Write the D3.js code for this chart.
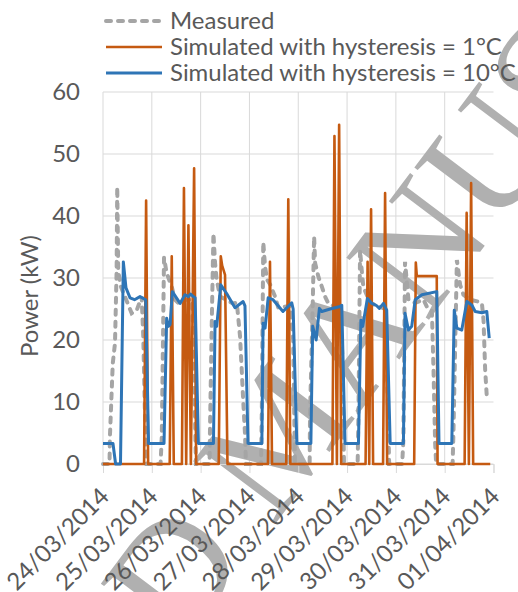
<!DOCTYPE html>
<html>
<head>
<meta charset="utf-8">
<script src="https://cdn.jsdelivr.net/npm/d3@7"></script>
<style>
  body { margin: 0; background: #fff; }
  text { font-family: Lato, "Open Sans", sans-serif; fill: #595959; }
</style>
</head>
<body>
<svg width="518" height="592"></svg>
<script>
// tick labels on the date axis (one per day, hours since 24/03 00:00)
var dateLabels = ['24/03/2014', '25/03/2014', '26/03/2014', '27/03/2014', '28/03/2014',
  '29/03/2014', '30/03/2014', '31/03/2014', '01/04/2014']
var dayHours = [0, 24, 48, 72, 96, 120, 144, 168, 192]
var yTicks = [0, 10, 20, 30, 40, 50, 60]
var seriesNames = ['Measured', 'Simulated with hysteresis = 1°C', 'Simulated with hysteresis = 10°C']

// [hour, kW]
var measured = [[0, 0], [3.2, 0], [3.4, 4.4], [4.8, 16.2], [5.9, 19.5], [6.7, 31.3], [7.0, 44.7], [7.5, 31],
  [8.9, 28.5], [10.8, 27], [14.1, 24.3], [16.6, 24.8], [19.0, 27], [19.8, 20.5], [20.7, 7], [21.4, 0],
  [28.3, 0], [28.9, 4.4], [30.0, 33.3], [31.3, 30.8], [33.8, 28.6], [35.4, 26.5], [36.9, 26], [40.3, 26.5],
  [43.8, 26.5], [44.8, 15], [45.7, 0],
  [52.4, 0], [52.6, 5.5], [53.6, 25], [54.3, 37.2], [55.1, 32.4], [55.9, 29.7], [57.6, 27], [63.9, 25.9],
  [65.8, 26], [67.4, 20.5], [68.2, 15.2], [69.0, 9.8], [69.8, 5], [70.3, 0],
  [77.7, 0], [78.1, 9], [78.8, 35.8], [79.7, 31.8], [80.7, 29.7], [82.1, 29], [84.6, 27], [86.2, 25.2],
  [92.0, 25.5], [93.5, 20], [94.4, 0],
  [101.6, 0], [101.8, 8.2], [103.1, 25.4], [103.8, 36.7], [104.3, 32.4], [105.9, 30.2], [107.6, 28.6],
  [109.2, 27], [110.8, 25.9], [116.6, 25], [117.6, 18], [118.5, 0],
  [125.2, 0], [125.6, 8], [126.4, 34.5], [127.2, 31.3], [128.0, 28.6], [131.3, 26], [138.7, 25],
  [139.7, 15], [140.7, 0],
  [147.1, 0], [147.7, 4], [148.5, 32.6], [150.2, 26.5], [153.5, 26], [157.6, 26.5], [159.2, 25.4],
  [161.7, 24.8], [162.5, 15.2], [163.3, 3.4], [163.8, 0],
  [171.9, 0], [172.3, 5], [174.0, 32.9], [175.6, 28.9], [177.2, 27.3], [180.5, 26.5], [184.4, 26.2],
  [186.3, 25.9], [187.1, 23.2], [187.9, 15.2], [188.7, 10.9]]

var simHyst1 = [[0, 0],
  [20.2, 0], [21.2, 42.5], [22.2, 0],
  [32.8, 0], [33.8, 33.5], [34.8, 0],
  [38.8, 0], [39.8, 44.5], [40.9, 0], [42.0, 38.5], [43.2, 0], [44.8, 47.7], [45.8, 0],
  [56.9, 0], [57.9, 33.5], [58.6, 32], [60.0, 30.5], [61.2, 0],
  [81.1, 0], [82.1, 32.6], [83.1, 0],
  [90.1, 0], [91.1, 42.7], [92.1, 0],
  [112.8, 0], [113.8, 52.9], [115.0, 0], [116.1, 54.7], [117.1, 0],
  [129.1, 0], [130.1, 32.6], [130.9, 0], [131.8, 41.1], [132.8, 0],
  [137.7, 0], [138.7, 43.7], [139.7, 0],
  [153.0, 0], [153.8, 32.5], [154.3, 30.3], [164.1, 30.3], [164.5, 0],
  [177.8, 0], [178.8, 40.5], [179.9, 0], [181.0, 45.3], [182.0, 0],
  [190.4, 0]]

var simHyst10 = [[0, 3.3], [4.9, 3.3], [6.2, 0], [8.6, 0], [10.0, 32.6], [11.3, 28.4], [13.3, 26.8],
  [15.5, 26.5], [18.2, 27], [21.0, 26.5], [22.4, 3.3],
  [30.0, 3.3], [31.3, 23.5], [32.1, 22.2], [33.0, 22.5], [34.1, 27.8], [37.9, 25.9], [40.3, 27.3],
  [42.0, 27], [43.1, 27.4], [44.4, 27], [45.3, 26.8], [46.9, 3.3],
  [54.3, 3.3], [55.1, 23], [55.9, 22.2], [57.9, 28.9], [60.8, 27.5], [64.9, 25.2], [68.9, 26.2],
  [69.8, 25.5], [71.3, 3.3],
  [78.1, 3.3], [78.7, 22.7], [79.7, 21.9], [81.2, 26.8], [83.6, 26.5], [88.5, 24.6], [92.8, 26],
  [93.5, 25], [95.3, 3.3],
  [102.2, 3.3], [103.1, 22.2], [104.8, 20], [106.4, 25.1], [107.6, 24.6], [111.7, 25], [116.6, 25.4],
  [117.4, 25.6], [119.0, 3.3],
  [125.6, 3.3], [126.8, 23.2], [127.7, 22.2], [130.0, 26.7], [132.2, 25.9], [134.3, 25.6], [135.9, 25.1],
  [137.9, 25.9], [139.5, 24.8], [141.2, 3.3],
  [147.7, 3.3], [148.5, 24.3], [150.2, 21.6], [151.8, 22.2], [153.5, 26.5], [156.8, 27.3], [164.1, 27.8],
  [165.2, 3.3],
  [171.5, 3.3], [172.7, 24.8], [174.0, 21.9], [176.4, 21.6], [178.9, 26.2], [181.4, 25.6], [183.0, 24.6],
  [186.3, 24.4], [188.7, 24.6], [189.9, 20.3]]

var colors = ['#a5a5a5', '#c55a11', '#2e75b6']
var widths = [4, 2.6, 3]

var svg = d3.select('svg')

// pick a font size so the longest legend entry is as wide as in the chart
var probe = svg.append('text').style('font-size', '20px').text(seriesNames[2])
var fs = 20 * 346 / probe.node().getComputedTextLength()
probe.remove()

var x = d3.scaleLinear().domain([0, 192]).range([103, 493.5])
var y = d3.scaleLinear().domain([0, 60]).range([464, 92])

// gridlines
svg.append('g').selectAll('line')
  .data(yTicks)
  .enter()
  .append('line')
  .attr('x1', x(0)).attr('x2', x(192))
  .attr('y1', (d) => y(d)).attr('y2', (d) => y(d))
  .style('stroke', '#d9d9d9')

svg.append('g').selectAll('line')
  .data(dayHours.slice(0, -1))
  .enter()
  .append('line')
  .attr('x1', (d) => x(d)).attr('x2', (d) => x(d))
  .attr('y1', y(0)).attr('y2', y(60))
  .style('stroke', '#d9d9d9')

// watermark
svg.append('text')
  .attr('transform', 'translate(322,462) rotate(-53)')
  .attr('text-anchor', 'middle')
  .style('font-family', '"Liberation Serif", serif')
  .style('font-size', '158px')
  .style('fill', '#b0b0b0')
  .text('ACCEPTED MANUSCRIPT')

// y axis
var yAxis = svg.append('g')
  .attr('transform', 'translate(103,0)')
  .call(d3.axisLeft(y).tickValues(yTicks).tickSize(0).tickPadding(23))
yAxis.select('.domain').remove()
yAxis.selectAll('text').style('font-size', fs + 'px').style('font-family', null).attr('fill', null)

svg.append('text')
  .attr('transform', 'translate(38,296) rotate(-90)')
  .attr('text-anchor', 'middle')
  .style('font-size', fs + 'px')
  .text('Power (kW)')

// x axis
var xAxis = svg.append('g')
  .attr('transform', 'translate(0,464)')
  .call(d3.axisBottom(x).tickValues(dayHours).tickSize(9).tickFormat((d, i) => dateLabels[i]))
xAxis.selectAll('line, path').attr('stroke', '#d9d9d9')
xAxis.selectAll('text')
  .attr('x', 0).attr('y', 0).attr('dy', 0)
  .attr('text-anchor', 'end')
  .attr('transform', 'translate(7,34) rotate(-45)')
  .style('font-size', fs + 'px').style('font-family', null).attr('fill', null)

// series
var line = d3.line().x((d) => x(d[0])).y((d) => y(d[1]))

svg.append('path').datum(measured)
  .attr('d', line)
  .style('fill', 'none').style('stroke', colors[0]).style('stroke-width', widths[0])
  .style('stroke-dasharray', '5,7').style('stroke-linecap', 'round')

svg.append('path').datum(simHyst1)
  .attr('d', line)
  .style('fill', 'none').style('stroke', colors[1]).style('stroke-width', widths[1])
  .style('stroke-linejoin', 'round')

svg.append('path').datum(simHyst10)
  .attr('d', line)
  .style('fill', 'none').style('stroke', colors[2]).style('stroke-width', widths[2])
  .style('stroke-linejoin', 'round')

// legend
var legend = svg.append('g').selectAll('g')
  .data(seriesNames)
  .enter()
  .append('g')
  .attr('transform', (d, i) => 'translate(0,' + (21 + i * 26) + ')')

legend.append('line')
  .attr('x1', 106).attr('x2', 162)
  .style('stroke', (d, i) => colors[i])
  .style('stroke-width', (d, i) => widths[i])
  .style('stroke-dasharray', (d, i) => i === 0 ? '5,7' : null)
  .style('stroke-linecap', (d, i) => i === 0 ? 'round' : null)

legend.append('text')
  .attr('x', 170)
  .attr('dy', '0.35em')
  .style('font-size', fs + 'px')
  .text((d) => d)
</script>
</body>
</html>
